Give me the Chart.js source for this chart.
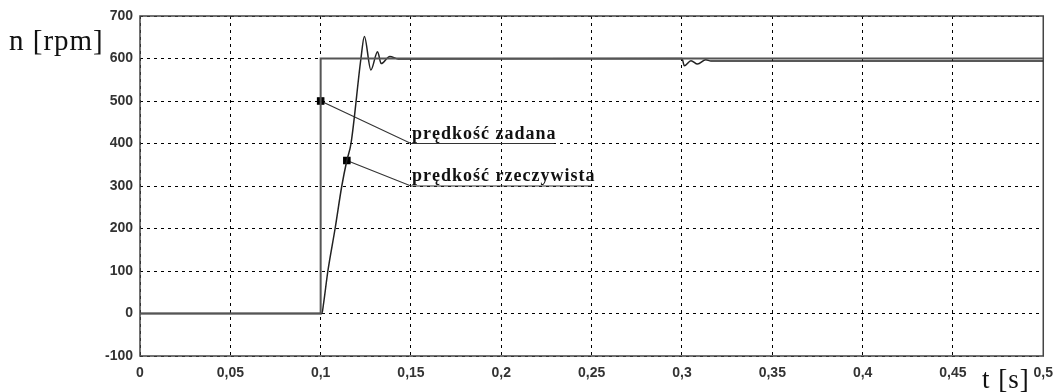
<!DOCTYPE html>
<html>
<head>
<meta charset="utf-8">
<script src="https://cdn.jsdelivr.net/npm/chart.js@4/dist/chart.umd.min.js"></script>
<style>
body{margin:0;background:#fff}
canvas{display:block}
</style>
</head>
<body>
<canvas id="grafico" width="1062" height="392"></canvas>
<script>

// ---------------- DADOS ----------------

// predkosc zadana (skok w t = 0,1)
const tZadana = [0, 0.1, 0.1, 0.5]
const nZadana = [0, 0, 600, 600]

// predkosc rzeczywista
const tRzecz = [0, 0.1, 0.1007, 0.1015, 0.104, 0.108, 0.1117, 0.1145, 0.1168, 0.1223, 0.1242, 0.1278, 0.1315, 0.1335, 0.1383, 0.1429,
  0.3, 0.3013, 0.305, 0.3086, 0.3132, 0.316, 0.5]
const nRzecz = [0, 0, 0, 20, 100, 200, 300, 360, 400, 600, 652, 573, 616, 588, 605, 599,
  600, 583, 595, 587, 597, 594, 594]

// opisy: punkt na krzywej -> koniec podkreslenia
const opisy = ["prędkość zadana", "prędkość rzeczywista"]
const opisT = [[0.1, 0.15, 0.229], [0.1145, 0.15, 0.2495]]
const opisN = [[500, 400, 400], [360, 300, 300]]

const tTicks = [0, 0.05, 0.1, 0.15, 0.2, 0.25, 0.3, 0.35, 0.4, 0.45, 0.5]
const nTicks = [-100, 0, 100, 200, 300, 400, 500, 600, 700]

const pts = (xs, ys) => xs.map((x, i) => ({x: x, y: ys[i]}))

// ---------------- RAMKA I NAPISY ----------------

const ramka = {
  id: "ramka",
  beforeDatasetsDraw(chart){
    const a = chart.chartArea
    const c = chart.ctx
    c.save()
    c.strokeStyle = "#444"
    c.lineWidth = 1.5
    c.strokeRect(a.left, a.top, a.right - a.left, a.bottom - a.top)
    c.restore()
  },
  afterDraw(chart){
    const c = chart.ctx
    const sx = chart.scales.x
    const sy = chart.scales.y
    c.save()
    c.fillStyle = "#111"
    c.textAlign = "left"
    c.textBaseline = "alphabetic"
    c.font = "bold 18px 'Liberation Serif'"
    c.letterSpacing = "1px"
    opisy.forEach((txt, i) => {
      c.fillText(txt, sx.getPixelForValue(opisT[i][1]) + 1, sy.getPixelForValue(opisN[i][1]) - 5)
    })
    c.font = "29px 'Liberation Serif'"
    c.letterSpacing = "1px"
    c.fillText("n [rpm]", 9, 50)
    c.font = "27px 'Liberation Serif'"
    c.fillText("t [s]", 982, 388)
    c.restore()
  }
}

// ---------------- GRAFICO ----------------

const datasets = [
  {
    data: pts(tZadana, nZadana),
    borderColor: "#555",
    borderWidth: 2,
    pointRadius: 0,
    tension: 0
  },
  {
    data: pts(tRzecz, nRzecz),
    borderColor: "#222",
    borderWidth: 1.5,
    pointRadius: 0,
    cubicInterpolationMode: "monotone"
  }
]

opisy.forEach((txt, i) => {
  datasets.push({
    data: pts(opisT[i], opisN[i]),
    borderColor: "#333",
    borderWidth: 1.2,
    pointStyle: "rect",
    pointRadius: [4.5, 0, 0],
    pointBackgroundColor: "#000",
    pointBorderColor: "#000",
    tension: 0
  })
})

const tickFont = {family: "'Liberation Sans'", size: 14, weight: "bold"}

new Chart(document.getElementById("grafico"), {
  type: "line",
  data: {datasets: datasets},
  options: {
    responsive: false,
    animation: false,
    layout: {padding: {top: 16, right: 12, left: 0, bottom: 0}},
    plugins: {legend: {display: false}, tooltip: {enabled: false}},
    scales: {
      x: {
        type: "linear",
        min: tTicks[0],
        max: tTicks[tTicks.length - 1],
        afterBuildTicks: s => { s.ticks = tTicks.map(v => ({value: v})) },
        afterFit: s => { s.height = 36 },
        grid: {color: "#000", lineWidth: 1, drawTicks: false},
        border: {display: false, dash: [3, 4]},
        ticks: {
          autoSkip: false,
          maxRotation: 0,
          padding: 9,
          color: "#333",
          font: tickFont,
          callback: v => String(Math.round(v * 100) / 100).replace(".", ",")
        }
      },
      y: {
        min: nTicks[0],
        max: nTicks[nTicks.length - 1],
        afterBuildTicks: s => { s.ticks = nTicks.map(v => ({value: v})) },
        afterFit: s => { s.width = 140 },
        grid: {color: "#000", lineWidth: 1, drawTicks: false},
        border: {display: false, dash: [3, 4]},
        ticks: {
          padding: 7,
          color: "#333",
          font: tickFont
        }
      }
    }
  },
  plugins: [ramka]
})
</script>
</body>
</html>
